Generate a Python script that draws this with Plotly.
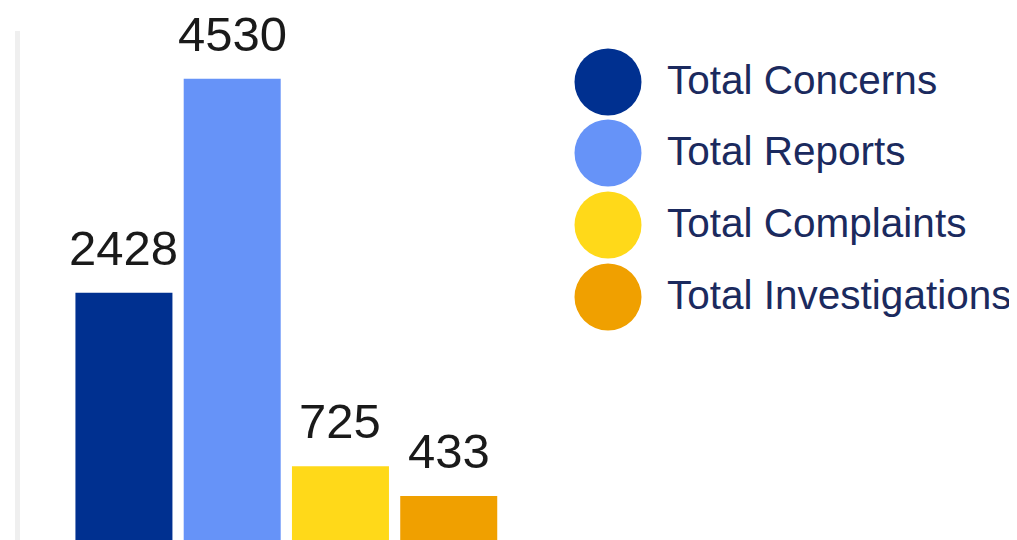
import plotly.graph_objects as go

categories = ["Total Concerns", "Total Reports", "Total Complaints", "Total Investigations"]
values = [2428, 4530, 725, 433]
colors = ["#003090", "#6693F8", "#FFD919", "#F0A000"]

W, H = 1017, 540
OFF = 8  # page body margin offset
L, R, T, B = 12, 468, 23, 8
pw, ph = W - L - R, H - T - B

fig = go.Figure()
for name, v, c in zip(categories, values, colors):
    fig.add_trace(go.Bar(x=[name], y=[v], name=name, marker_color=c,
                         marker_line_width=0, showlegend=False))
    fig.add_annotation(x=name, y=v, text=str(v), showarrow=False,
                       yanchor="bottom", yshift=16,
                       font=dict(family="Arial, Liberation Sans", size=49, color="#1a1a1a"))

# manual legend with large circles (page pixel positions)
leg_cx, leg_tx = 608, 665
leg_cy = [82, 153, 225, 297]
d = 67
for name, c, cy in zip(categories, colors, leg_cy):
    xa = (leg_cx - OFF - L) / pw
    ya = (H - B - (cy - OFF)) / ph
    fig.add_shape(type="circle", xref="paper", yref="paper",
                  xsizemode="pixel", ysizemode="pixel",
                  xanchor=xa, yanchor=ya,
                  x0=-d / 2, x1=d / 2, y0=-d / 2, y1=d / 2,
                  fillcolor=c, line_width=0)
    fig.add_annotation(x=(leg_tx - OFF - L) / pw, y=ya, xref="paper", yref="paper",
                       text=name, showarrow=False, xanchor="left", yanchor="middle",
                       yshift=2,
                       font=dict(family="Arial, Liberation Sans", size=40.5, color="#1b2a5e"))

fig.update_layout(
    width=W, height=H,
    margin=dict(l=L, r=R, t=T, b=B, pad=0),
    paper_bgcolor="white", plot_bgcolor="white",
    barmode="overlay", bargap=0.104,
    xaxis=dict(type="category", categoryorder="array", categoryarray=categories,
               range=[-0.96, 4.0], showticklabels=False, showgrid=False,
               zeroline=False, showline=False, ticks=""),
    yaxis=dict(range=[0, 5000], showticklabels=False, showgrid=False,
               zeroline=False, showline=True, linecolor="#efefef", linewidth=5,
               ticks=""),
)

fig.write_html("out.html")
